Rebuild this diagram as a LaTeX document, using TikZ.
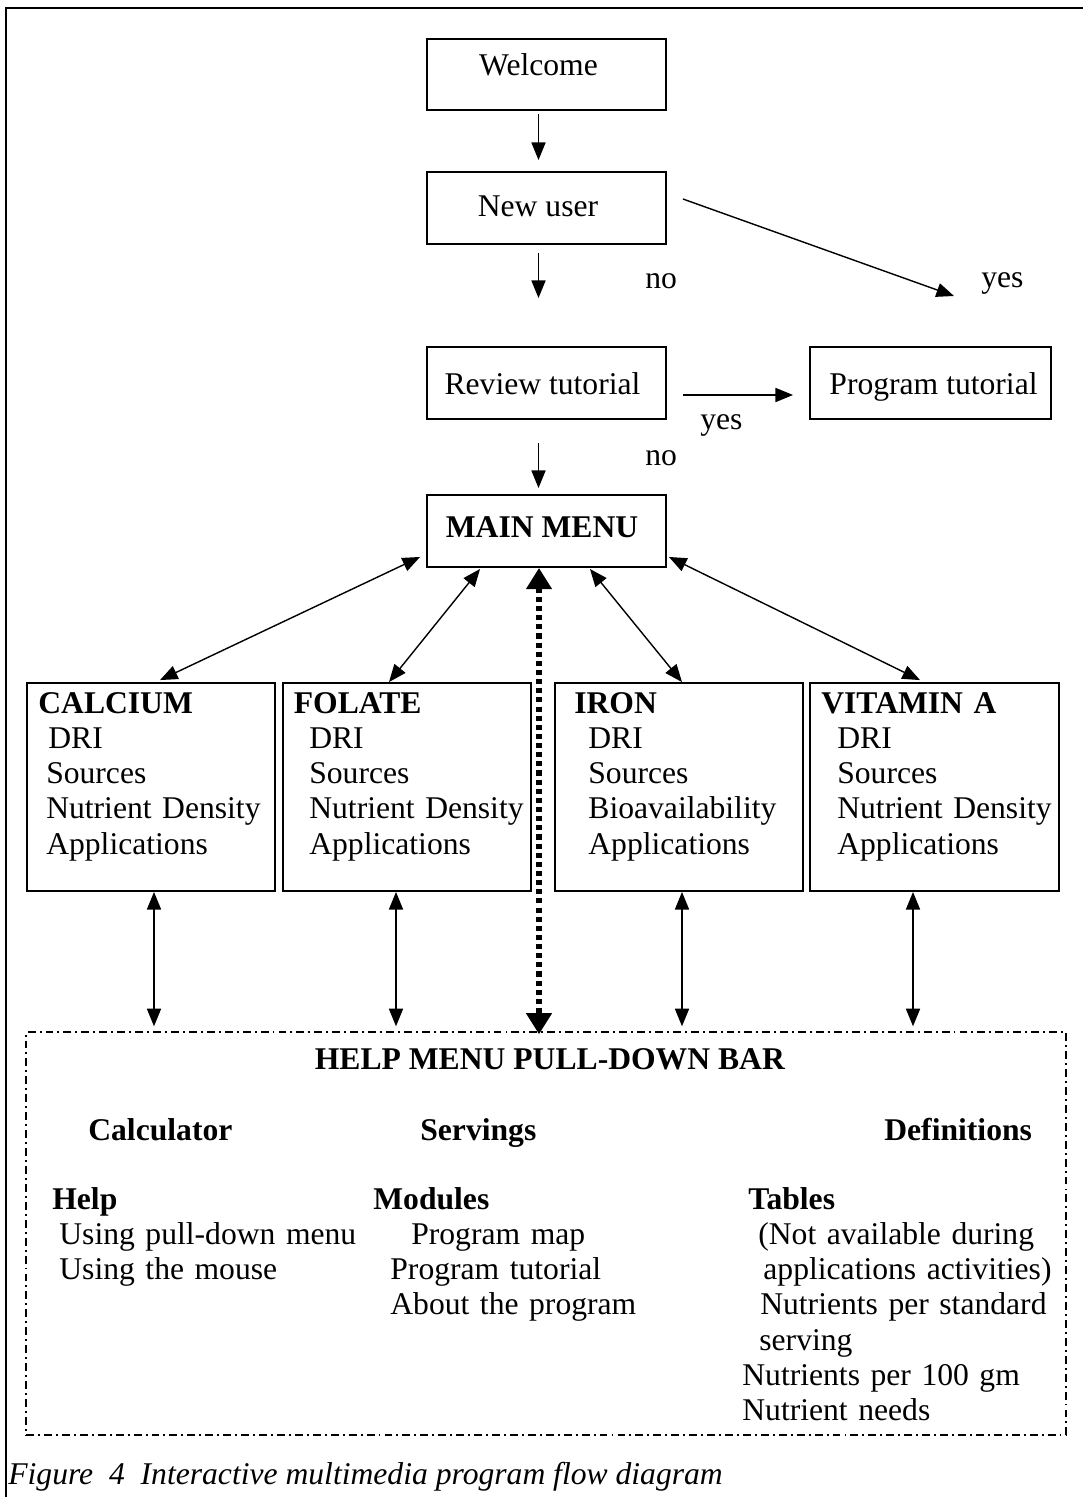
\documentclass[tikz,border=0pt]{standalone}
\usepackage{fontspec}
\setmainfont{Liberation Serif}
\usetikzlibrary{arrows.meta,calc}
\tikzset{
  box/.style={draw, line width=1.1pt, inner sep=0pt},
  txt/.style={inner sep=0pt, anchor=base},
  ltxt/.style={inner sep=0pt, anchor=base west},
  col/.style={inner sep=0pt, anchor=base west, align=left, text width=6.5cm},
  arr/.style={line width=0.8pt, -{Triangle[length=10pt,width=8pt]}},
  dbl/.style={line width=0.8pt, {Triangle[length=10pt,width=8pt]}-{Triangle[length=10pt,width=8pt]}},
  dotarr/.style={line width=3.8pt, dash pattern=on 2.9pt off 2.3pt,
    {Triangle[length=12pt,width=14pt]}-{Triangle[length=12pt,width=14pt]}},
  helpbox/.style={draw, line width=0.85pt, inner sep=0pt,
    dash pattern=on 4.5pt off 2.3pt on 1.1pt off 2.3pt},
}
\begin{document}
\begin{tikzpicture}[x=0.02cm, y=-0.02cm, font=\fontsize{18}{20.1}\selectfont]
\useasboundingbox (0,0) rectangle (1083,1497);
% outer frame
\draw[line width=1.1pt] (6,1497) -- (6,8) -- (1083,8);

% top boxes
\node[box, minimum width=4.78cm, minimum height=1.42cm] (welcome) at (546.5,74.5) {};
\node[txt] (welcomeT) at (538.5,76) {Welcome};
\node[box, minimum width=4.78cm, minimum height=1.44cm] (newuser) at (546.5,208) {};
\node[txt] (newuserT) at (538,216) {New user};
\node[box, minimum width=4.78cm, minimum height=1.44cm] (review) at (546.5,383) {};
\node[txt] (reviewT) at (542.5,394) {Review tutorial};
\node[box, minimum width=4.82cm, minimum height=1.44cm] (program) at (930.5,383) {};
\node[txt] (programT) at (933.5,394) {Program tutorial};
\node[box, minimum width=4.78cm, minimum height=1.44cm] (mm) at (546.5,531) {};
\node[txt] (mmT) at (542,537) {\textbf{MAIN MENU}};

% labels
\node[ltxt] (no1) at (645,288) {no};
\node[ltxt] (yes1) at (981,287) {yes};
\node[ltxt] (yes2) at (700,429) {yes};
\node[ltxt] (no2) at (645,465) {no};

% top connectors
\coordinate (yesend) at (954,296);
\draw[arr] ($(welcome.south)+(-8,3)$) -- ($(newuser.north)+(-8,-11)$);
\draw[arr] ($(newuser.south)+(-8,8)$) -- ($(review.north)+(-8,-48)$);
\draw[arr] ($(newuser.east)+(16,-9)$) -- (yesend);
\draw[arr] ($(review.east)+(16,12)$) -- ($(program.west)+(-16,12)$);
\draw[arr] ($(review.south)+(-8,23)$) -- ($(mm.north)+(-8,-6)$);

% nutrient boxes
\node[box, minimum width=4.96cm, minimum height=4.16cm] (calc) at (151,787) {};
\node[box, minimum width=4.96cm, minimum height=4.16cm] (fol) at (407,787) {};
\node[box, minimum width=4.96cm, minimum height=4.16cm] (iron) at (679,787) {};
\node[box, minimum width=4.98cm, minimum height=4.16cm] (vita) at (934.5,787) {};

\node[col] (calcT) at (38,713) {\textbf{CALCIUM}\\\hspace*{5.7pt}DRI\\\hspace*{4.5pt}Sources\\\hspace*{4.5pt}Nutrient Density\\\hspace*{4.5pt}Applications};
\node[col] (folT) at (293.5,713) {\textbf{FOLATE}\\\hspace*{8.8pt}DRI\\\hspace*{8.8pt}Sources\\\hspace*{8.8pt}Nutrient Density\\\hspace*{8.8pt}Applications};
\node[col] (ironT) at (574,713) {\textbf{IRON}\\\hspace*{8pt}DRI\\\hspace*{8pt}Sources\\\hspace*{8pt}Bioavailability\\\hspace*{8pt}Applications};
\node[col] (vitaT) at (821,713) {\textbf{VITAMIN A}\\\hspace*{9.1pt}DRI\\\hspace*{9.1pt}Sources\\\hspace*{9.1pt}Nutrient Density\\\hspace*{9.1pt}Applications};

% help menu
\node[helpbox, minimum width=20.8cm, minimum height=8.06cm] (help) at (546,1233.5) {};
\node[txt] (helpT) at (550,1069) {\textbf{HELP MENU PULL-DOWN BAR}};
\node[ltxt] (calculator) at (88,1140) {\textbf{Calculator}};
\node[ltxt] (servings) at (420,1140) {\textbf{Servings}};
\node[ltxt] (definitions) at (884,1140) {\textbf{Definitions}};
\node[col] (helpcol) at (52,1209) {\textbf{Help}\\\hspace*{4pt}Using pull-down menu\\\hspace*{4pt}Using the mouse};
\node[col] (modcol) at (373,1209) {\textbf{Modules}\\\hspace*{21.6pt}Program map\\\hspace*{9.7pt}Program tutorial\\\hspace*{9.7pt}About the program};
\node[col] (tabcol) at (742,1209) {\hspace*{3.4pt}\textbf{Tables}\\\hspace*{9.1pt}(Not available during\\\hspace*{12pt}applications activities)\\\hspace*{10.2pt}Nutrients per standard\\\hspace*{9.7pt}serving\\Nutrients per 100 gm\\Nutrient needs};

% main menu connectors
\draw[dbl] ($(mm.south west)+(-6,-11)$) -- ($(calc.north)+(9,-2)$);
\draw[dbl] ($(mm.south west)+(54,1)$) -- ($(fol.north)+(-18,0)$);
\draw[dbl] ($(mm.south east)+(-77,1)$) -- ($(iron.north)+(3,0)$);
\draw[dbl] ($(mm.south east)+(2,-11)$) -- ($(vita.north)+(-14.5,-2)$);
\draw[dotarr] ($(mm.south)+(-7.5,0)$) -- ($(help.north)+(-7,3)$);

% module to help connectors
\coordinate (c1) at ($(calc.south)+(3,0)$);
\coordinate (c2) at ($(fol.south)+(-11,0)$);
\coordinate (c3) at ($(iron.south)+(3,0)$);
\coordinate (c4) at ($(vita.south)+(-21.5,0)$);
\draw[dbl] (c1) -- ($(c1 |- help.north)+(0,-5)$);
\draw[dbl] (c2) -- ($(c2 |- help.north)+(0,-5)$);
\draw[dbl] (c3) -- ($(c3 |- help.north)+(0,-5)$);
\draw[dbl] (c4) -- ($(c4 |- help.north)+(0,-5)$);

% caption
\node[ltxt] (caption) at (8,1484) {\itshape Figure\ \ 4\ \ Interactive multimedia program flow diagram};
\end{tikzpicture}
\end{document}
